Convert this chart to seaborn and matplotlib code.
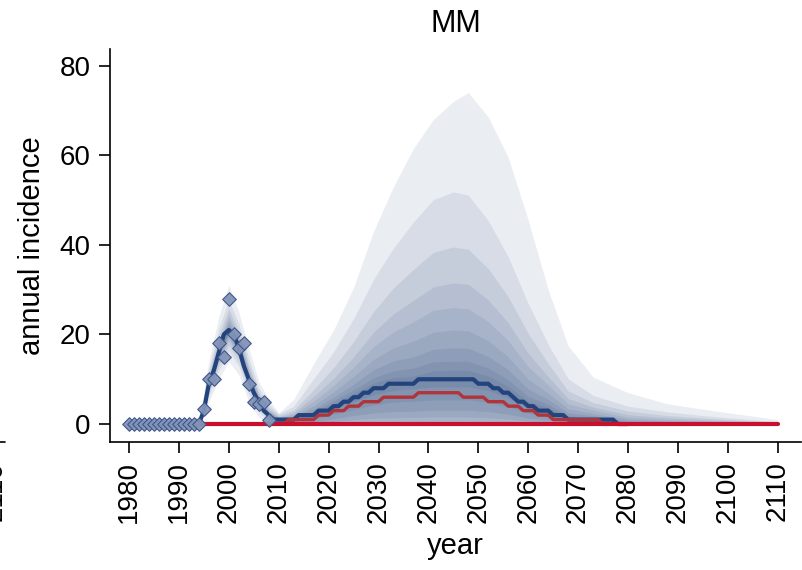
import matplotlib
matplotlib.use("Agg")
import matplotlib.pyplot as plt
import seaborn as sns
from matplotlib.lines import Line2D

# ---------------- data ----------------
obs_years = list(range(1980, 2009))
obs_vals = [0, 0, 0, 0, 0, 0, 0, 0, 0, 0, 0, 0, 0, 0, 0,
            3.3, 10, 10, 18, 15, 28, 20, 17, 18, 9, 5, 4.5, 5, 1]

med_years = list(range(1994, 2081))
med_vals = [0, 3, 9, 12, 16, 20, 21, 20, 17, 13,
            10, 7, 5, 3, 2, 1, 1, 1, 1, 1,
            2, 2, 2, 2, 3, 3, 3, 4, 4, 5,
            5, 6, 6, 7, 7, 8, 8, 8, 9, 9,
            9, 9, 9, 9, 10, 10, 10, 10, 10, 10,
            10, 10, 10, 10, 10, 10, 9, 9, 9, 8,
            8, 7, 7, 6, 5, 5, 4, 4, 3, 3,
            3, 2, 2, 2, 1, 1, 1, 1, 1, 1,
            1, 1, 1, 1, 0, 0, 0]

red_years = list(range(2010, 2077))
red_vals = [0, 0, 1, 1, 1, 1, 1, 1, 2, 2,
            2, 3, 3, 3, 4, 4, 4, 5, 5, 5,
            5, 6, 6, 6, 6, 6, 6, 6, 7, 7,
            7, 7, 7, 7, 7, 7, 7, 6, 6, 6,
            6, 6, 5, 5, 5, 5, 4, 4, 4, 3,
            3, 3, 2, 2, 2, 1, 1, 1, 1, 1,
            1, 1, 1, 1, 1, 0, 0]

zero_years = [1994, 2110]
zero_vals = [0, 0]

band_years = [1994, 1996, 1998, 2000, 2002, 2004, 2006, 2008,
              2010, 2013, 2017, 2021, 2025, 2029, 2033, 2037, 2041, 2045, 2048,
              2052, 2056, 2060, 2064, 2068, 2073, 2080, 2088, 2097, 2110]

# upper bounds, innermost (U1) to outermost (U9)
U1 = [0.0, 9.2, 16.3, 21.3, 17.3, 10.2, 5.1, 2.1,
      1.05, 1.15, 2.4, 4.6, 6.8, 9.2, 10.4, 10.7, 11.9, 12.0, 12.0,
      10.7, 8.4, 5.1, 3.7, 1.4, 1.25, 0.2, 0.1, 0.1, 0.0]
U2 = [0.0, 9.3, 16.5, 21.7, 17.5, 10.5, 5.3, 2.2,
      1.1, 1.3, 2.8, 5.2, 7.7, 10.3, 11.9, 12.5, 13.9, 14.0, 14.0,
      12.5, 9.9, 6.2, 4.4, 1.9, 1.5, 0.4, 0.25, 0.15, 0.05]
U3 = [0.05, 9.6, 16.9, 22.1, 17.9, 10.8, 5.5, 2.4,
      1.2, 1.5, 3.4, 6.0, 8.9, 12.1, 14.1, 15.0, 16.7, 17.0, 16.9,
      15.1, 12.1, 7.8, 5.5, 2.5, 1.9, 0.7, 0.45, 0.3, 0.1]
U4 = [0.1, 9.9, 17.4, 22.8, 18.4, 11.2, 5.8, 2.6,
      1.4, 1.8, 4.1, 7.2, 10.6, 14.4, 17.0, 18.5, 20.5, 21.0, 20.8,
      18.6, 15.0, 10.0, 6.9, 3.4, 2.4, 1.1, 0.7, 0.4, 0.15]
U5 = [0.15, 10.3, 18.1, 23.6, 19.1, 11.8, 6.2, 2.9,
      1.5, 2.2, 5.1, 8.6, 12.7, 17.3, 20.6, 22.8, 25.4, 26.0, 25.7,
      22.9, 18.6, 12.8, 8.7, 4.5, 3.1, 1.5, 1.0, 0.6, 0.2]
U6 = [0.2, 10.7, 18.8, 24.5, 19.8, 12.4, 6.6, 3.2,
      1.7, 2.6, 6.2, 10.2, 15.0, 20.5, 24.6, 27.6, 30.6, 31.5, 31.2,
      27.7, 22.6, 15.8, 10.6, 5.7, 3.8, 2.1, 1.4, 0.9, 0.3]
U7 = [0.25, 11.4, 19.8, 25.8, 20.8, 13.3, 7.1, 3.7,
      2.0, 3.1, 7.7, 12.6, 18.4, 25.1, 30.4, 34.5, 38.3, 39.5, 39.0,
      34.7, 28.4, 20.2, 13.5, 7.4, 4.8, 2.9, 1.9, 1.2, 0.4]
U8 = [0.3, 12.4, 21.4, 27.7, 22.4, 14.7, 8.0, 4.4,
      2.3, 4.0, 10.1, 16.1, 23.5, 32.3, 39.3, 45.1, 50.1, 51.8, 51.1,
      45.4, 37.3, 26.9, 17.8, 10.1, 6.4, 4.0, 2.7, 1.7, 0.5]
U9 = [0.5, 14, 24, 31, 25, 17, 9.5, 5.5,
      2.5, 5.5, 13.5, 21, 30.5, 43, 53, 61.5, 68, 72, 74,
      68.5, 59.5, 45.5, 30, 17.5, 10.5, 7, 4.5, 3, 1]

# lower bounds, innermost (L1) to outermost (L9)
L1 = [0, 8.9, 15.8, 20.8, 16.8, 9.85, 4.9, 1.95,
      0.8, 0.8, 1.7, 3.3, 5.0, 6.6, 7.5, 7.9, 8.3, 8.3, 8.3,
      7.5, 5.8, 3.7, 2.5, 1.2, 0.8, 0.25, 0, 0, 0]
L2 = [0, 8.7, 15.6, 20.5, 16.6, 9.65, 4.75, 1.85,
      0.5, 0.5, 1.1, 2.2, 3.2, 4.3, 4.9, 5.1, 5.4, 5.4, 5.4,
      4.9, 3.8, 2.4, 1.6, 0.8, 0.5, 0.15, 0, 0, 0]
L3 = [0, 8.5, 15.3, 20.2, 16.3, 9.4, 4.6, 1.75,
      0.3, 0.3, 0.6, 1.2, 1.9, 2.5, 2.8, 2.9, 3.1, 3.1, 3.1,
      2.8, 2.2, 1.4, 0.9, 0.5, 0.3, 0.1, 0, 0, 0]
L4 = [0, 8.3, 14.9, 19.7, 15.9, 9.1, 4.4, 1.65,
      0.15, 0.15, 0.3, 0.6, 1.0, 1.3, 1.4, 1.5, 1.6, 1.6, 1.6,
      1.4, 1.1, 0.7, 0.5, 0.2, 0.15, 0, 0, 0, 0]
L5 = [0, 8.0, 14.4, 19.2, 15.4, 8.7, 4.1, 1.5,
      0, 0, 0.1, 0.2, 0.3, 0.4, 0.45, 0.5, 0.5, 0.5, 0.5,
      0.45, 0.35, 0.2, 0.15, 0.1, 0, 0, 0, 0, 0]
L6 = [0, 7.6, 13.9, 18.6, 14.9, 8.25, 3.8, 1.3,
      0, 0, 0, 0, 0, 0, 0, 0, 0, 0, 0,
      0, 0, 0, 0, 0, 0, 0, 0, 0, 0]
L7 = [0, 7.1, 13.1, 17.6, 14.1, 7.6, 3.3, 1.0,
      0, 0, 0, 0, 0, 0, 0, 0, 0, 0, 0,
      0, 0, 0, 0, 0, 0, 0, 0, 0, 0]
L8 = [0, 6.3, 12.0, 16.3, 13.0, 6.65, 2.65, 0.65,
      0, 0, 0, 0, 0, 0, 0, 0, 0, 0, 0,
      0, 0, 0, 0, 0, 0, 0, 0, 0, 0]
L9 = [0, 5.0, 10.0, 14.0, 11.0, 5.0, 1.5, 0,
      0, 0, 0, 0, 0, 0, 0, 0, 0, 0, 0,
      0, 0, 0, 0, 0, 0, 0, 0, 0, 0]

x_ticks = [1980, 1990, 2000, 2010, 2020, 2030, 2040, 2050,
           2060, 2070, 2080, 2090, 2100, 2110]
y_ticks = [0, 20, 40, 60, 80]

# ---------------- style ----------------
sns.set_style("ticks")
plt.rcParams['font.family'] = ['Liberation Sans', 'DejaVu Sans']
plt.rcParams['text.color'] = 'black'
plt.rcParams['axes.labelcolor'] = 'black'
plt.rcParams['xtick.color'] = 'black'
plt.rcParams['ytick.color'] = 'black'
plt.rcParams['axes.edgecolor'] = 'black'

W, H = 802, 570
fig = plt.figure(figsize=(W / 100, H / 100), dpi=100)
ax = fig.add_axes([110 / W, 128 / H, 691 / W, 393 / H])

band_color = '#1a3a70'
lowers = [L9, L8, L7, L6, L5, L4, L3, L2, L1]
uppers = [U9, U8, U7, U6, U5, U4, U3, U2, U1]
for lo, hi in zip(lowers, uppers):
    ax.fill_between(band_years, lo, hi, color=band_color, alpha=0.09,
                    linewidth=0, zorder=1)

sns.lineplot(x=med_years, y=med_vals, ax=ax, color='#23437c', linewidth=3.0,
             zorder=3)
sns.lineplot(x=red_years, y=red_vals, ax=ax, color='#b1343a', linewidth=2.4,
             zorder=4)
sns.lineplot(x=zero_years, y=zero_vals, ax=ax, color='#c8102e', linewidth=3.0,
             zorder=5)
sns.scatterplot(x=obs_years, y=obs_vals, ax=ax, marker='D', s=48,
                color='#8294b8', edgecolor='#3b5286', linewidth=0.8,
                alpha=0.95, zorder=6)

ax.set_xlim(1976.19, 2114.67)
ax.set_ylim(-4.0, 83.7)
ax.set_xticks(x_ticks)
ax.set_yticks(y_ticks)
ax.set_xticklabels([str(t) for t in x_ticks], rotation=90)
ax.tick_params(axis='both', length=8, width=1.2, labelsize=20, pad=6,
               color='black', labelcolor='black')
sns.despine(ax=ax)
for s in ['left', 'bottom']:
    ax.spines[s].set_linewidth(1.2)
    ax.spines[s].set_color('black')

ax.set_title('MM', fontsize=22, pad=12, color='black')
ax.set_xlabel('year', fontsize=21, labelpad=6, color='black')
ax.set_ylabel('annual incidence', fontsize=21, labelpad=10, color='black')

# remnant of the neighbouring panel at the left edge
fig.add_artist(Line2D([0, 5 / W], [128 / H, 128 / H], color='black', lw=1.2))
fig.text(-5 / W, 1 - 461 / H, '2110', rotation=90, ha='center', va='top',
         fontsize=20, color='black')

fig.savefig('out.png', dpi=100)
